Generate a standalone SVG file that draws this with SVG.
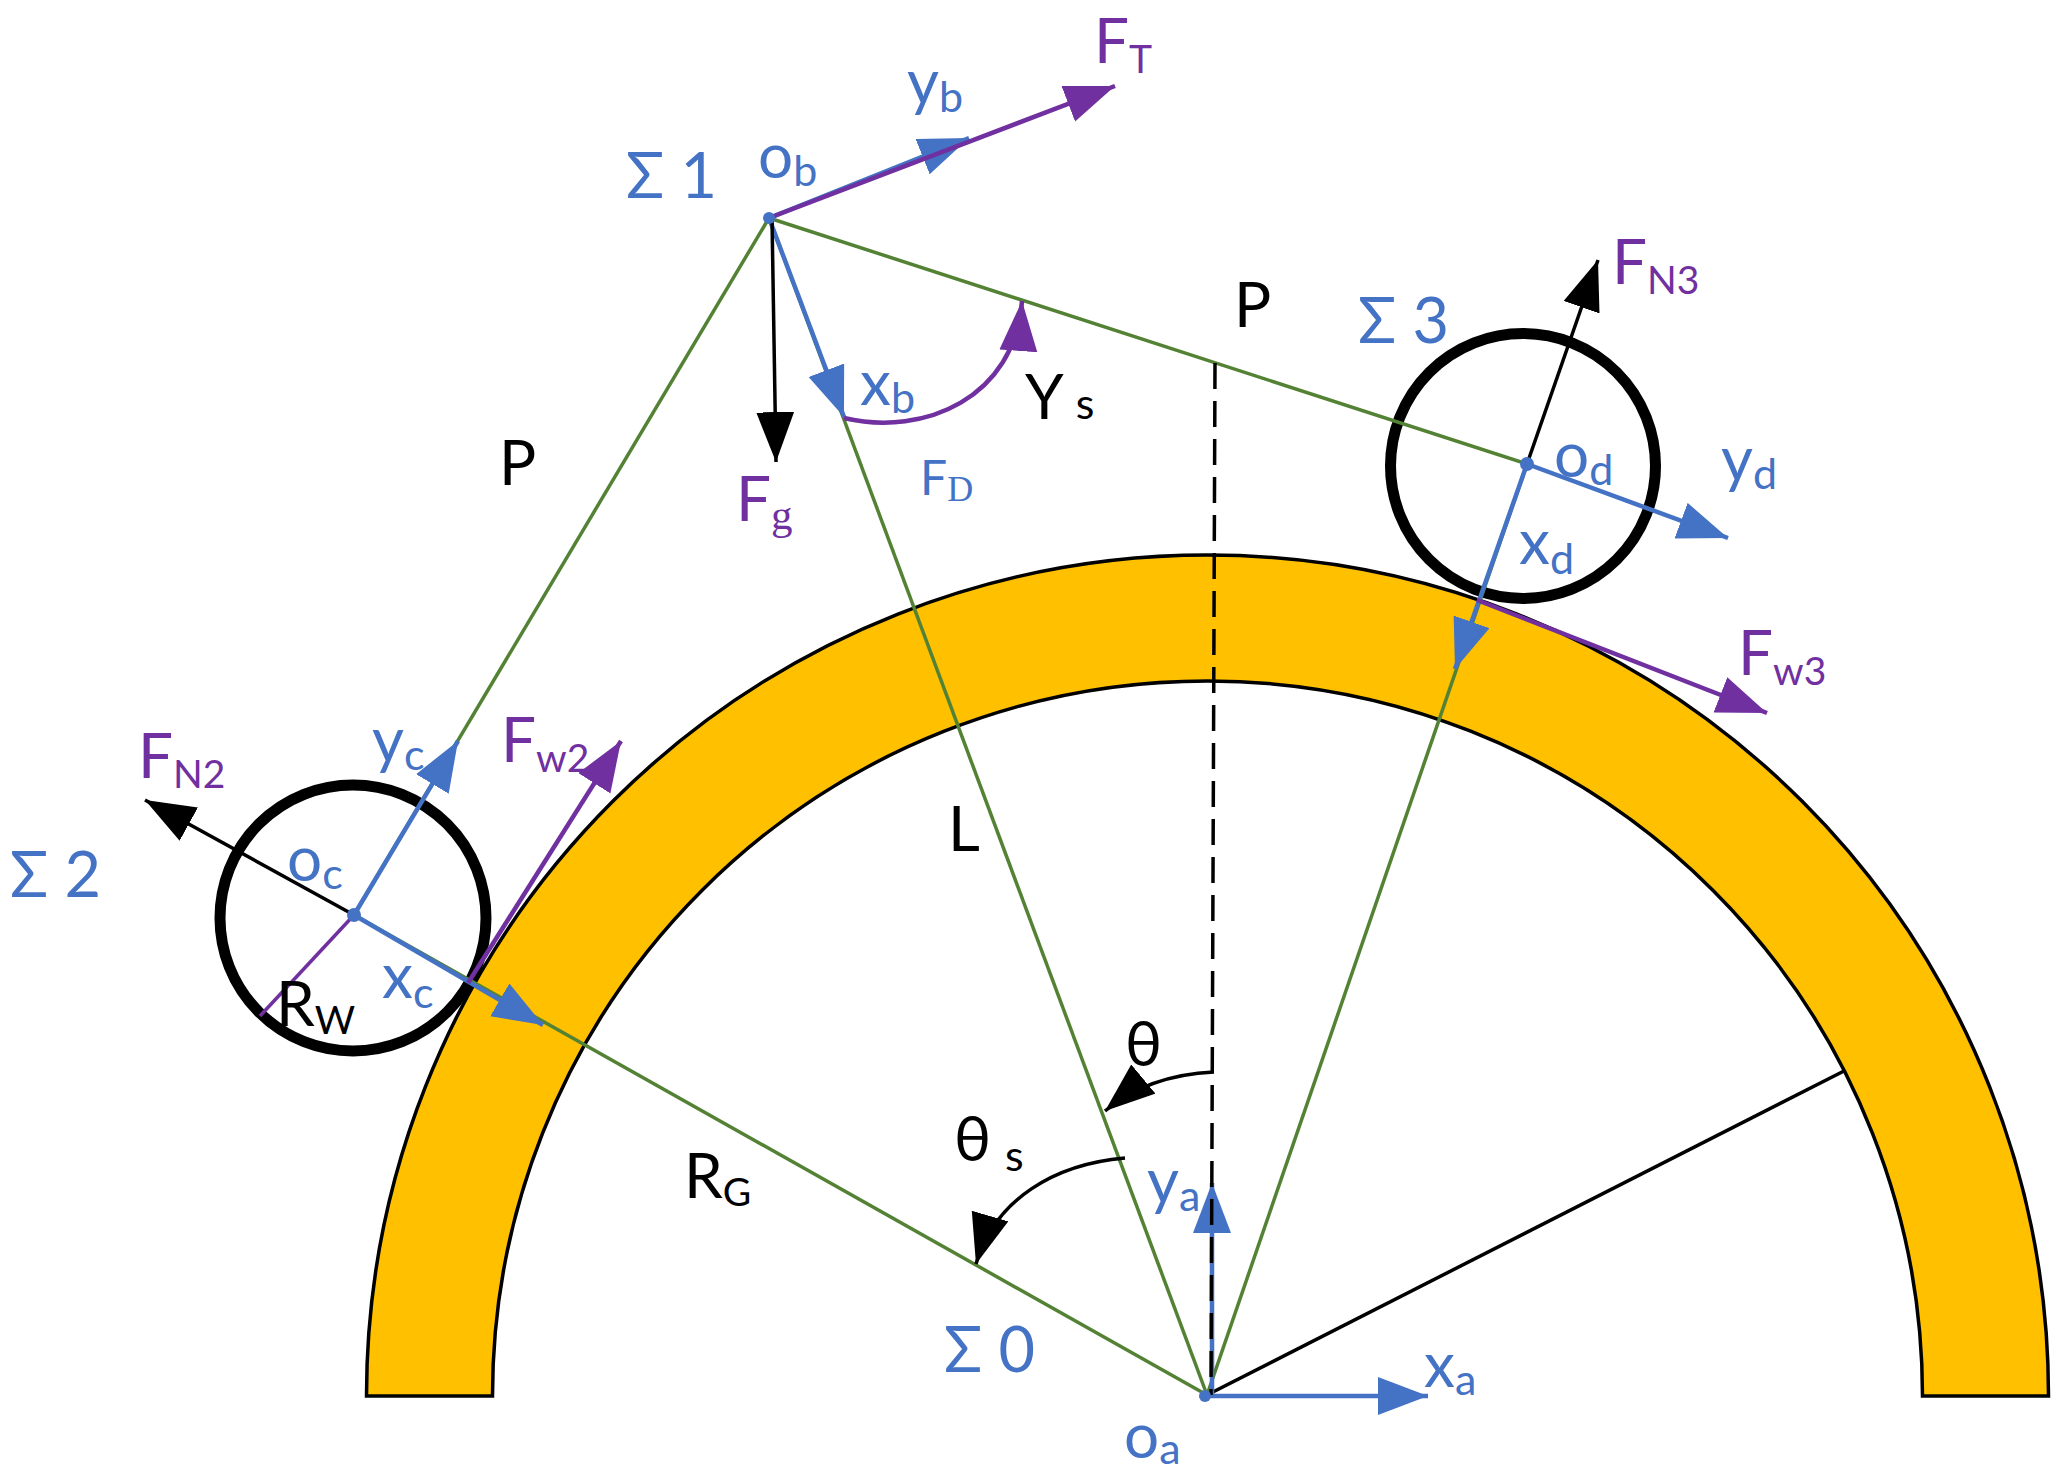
<svg xmlns="http://www.w3.org/2000/svg" width="2068" height="1477" viewBox="0 0 2068 1477">
<style>
text{font-family:Lato,"Open Sans",sans-serif;font-size:62px}
.b{fill:#4472C4}.p{fill:#7030A0}.k{fill:#000}
.sub{font-size:43px}
.fs{font-size:39px}
.sig{font-size:63px}
.ser{font-family:"Liberation Serif",serif}
.g{stroke:#548235;stroke-width:3.5;fill:none}
.bl{stroke:#4472C4;stroke-width:4.500;fill:none;marker-end:url(#mb)}
.pu{stroke:#7030A0;stroke-width:4.500;fill:none;marker-end:url(#mp)}
.bk{stroke:#000;stroke-width:3.500;fill:none;marker-end:url(#mk)}
.wheel{fill:none;stroke:#000;stroke-width:11}
</style>
<defs>
<marker id="mb" markerUnits="userSpaceOnUse" markerWidth="52" markerHeight="40" refX="50" refY="19" orient="auto"><path d="M0,0L50,19L0,38Z" fill="#4472C4"/></marker>
<marker id="mp" markerUnits="userSpaceOnUse" markerWidth="52" markerHeight="40" refX="50" refY="19" orient="auto"><path d="M0,0L50,19L0,38Z" fill="#7030A0"/></marker>
<marker id="mk" markerUnits="userSpaceOnUse" markerWidth="52" markerHeight="40" refX="50" refY="19" orient="auto"><path d="M0,0L50,19L0,38Z" fill="#000"/></marker>
</defs>
<g id="ring"><path d="M366.500,1396A841,841 0 0 1 2048.500,1396H1922.500A715,715 0 0 0 492.500,1396Z" fill="#FFC000" stroke="#000" stroke-width="3.500"/></g>
<g id="wheel-c"><circle cx="353" cy="918" r="133" class="wheel"/></g>
<g id="wheel-d"><circle cx="1523" cy="466" r="132.500" class="wheel"/></g>
<g id="connectors">
<path class="g" d="M769,218L354,915"/>
<path class="g" d="M769,218L1527,464"/>
<path class="g" d="M769,218L1207,1395"/>
<path class="g" d="M354,915L1207,1395"/>
<path class="g" d="M1527,464L1207,1395"/>
<path d="M1207,1395L1844,1071" fill="none" stroke="#000" stroke-width="3.500"/>
<path class="bl" d="M1207,1396H1428"/>
<path class="bl" d="M1212,1395V1183"/>
<path d="M1215,363L1211,1395" fill="none" stroke="#000" stroke-width="3.500" stroke-dasharray="26,12"/>
<path class="bl" d="M769,218L969,138"/>
<path class="pu" d="M769,218L1115,86"/>
<path class="bl" d="M769,218L844,417"/>
<path class="bk" d="M772,218L776,462"/>
<path class="pu" d="M844,418C925,437 1015,397 1022,301"/>
<path class="bk" d="M1527,464L1598,260"/>
<path class="bl" d="M1527,464L1728,538"/>
<path class="bl" d="M1527,464L1455,669"/>
<path class="pu" d="M1477,600L1767,713"/>
<path class="bk" d="M354,915L145,800"/>
<path class="bl" d="M354,915L458,741"/>
<path class="bl" d="M354,915L543,1025"/>
<path class="pu" d="M468,983L621,741"/>
<path d="M354,915L260,1016" fill="none" stroke="#7030A0" stroke-width="3.500"/>
<path class="bk" d="M1214,1072C1170,1074 1135,1086 1105,1111"/>
<path class="bk" d="M1125,1158C1055,1164 995,1199 976,1264"/>
<circle cx="769" cy="218" r="6" fill="#4472C4"/>
<circle cx="354" cy="915" r="7" fill="#4472C4"/>
<circle cx="1527" cy="464" r="7" fill="#4472C4"/>
<circle cx="1205" cy="1396" r="6" fill="#4472C4"/>
</g>
<g id="labels">
<text x="1094" y="63" class="p">F<tspan class="fs" dy="10">T</tspan></text>
<text x="907" y="104" class="b">y<tspan class="sub" dy="8">b</tspan></text>
<text x="626" y="198" class="b sig">Σ 1</text>
<text x="758" y="178" class="b">o<tspan class="sub" dy="8">b</tspan></text>
<text x="1358" y="343" class="b sig">Σ 3</text>
<text x="1612" y="284" class="p">F<tspan class="fs" dy="10">N3</tspan></text>
<text x="1234" y="327" class="k">P</text>
<text x="1554" y="477" class="b">o<tspan class="sub" dy="8">d</tspan></text>
<text x="1721" y="481" class="b">y<tspan class="sub" dy="8">d</tspan></text>
<text x="1519" y="564" class="b">x<tspan class="sub" dy="10">d</tspan></text>
<text x="1738" y="675" class="p">F<tspan class="fs" dy="10">w3</tspan></text>
<text x="860" y="405" class="b">x<tspan class="sub" dy="8">b</tspan></text>
<text x="1025" y="419" class="k">Υ<tspan class="sub" dx="12">s</tspan></text>
<text x="920" y="495" class="b" style="font-size:48px">F<tspan class="ser" style="font-size:36px" dy="6">D</tspan></text>
<text x="736" y="521" class="p">F<tspan class="sub ser" dy="8">g</tspan></text>
<text x="499" y="485" class="k">P</text>
<text x="948" y="851" class="k">L</text>
<text x="138" y="778" class="p">F<tspan class="fs" dy="10">N2</tspan></text>
<text x="372" y="762" class="b">y<tspan class="sub" dy="8">c</tspan></text>
<text x="501" y="762" class="p">F<tspan class="fs" dy="10">w2</tspan></text>
<text x="10" y="897" class="b sig">Σ 2</text>
<text x="287" y="881" class="b">o<tspan class="sub" dy="8">c</tspan></text>
<text x="382" y="998" class="b">x<tspan class="sub" dy="10">c</tspan></text>
<text x="276" y="1026" class="k">R<tspan class="fs" dy="8">W</tspan></text>
<text x="1125" y="1066" class="k">θ</text>
<text x="954" y="1161" class="k">θ<tspan class="sub" dx="14" dy="10">s</tspan></text>
<text x="1147" y="1203" class="b">y<tspan class="sub" dy="8">a</tspan></text>
<text x="684" y="1198" class="k">R<tspan class="fs" dy="8">G</tspan></text>
<text x="944" y="1372" class="b sig">Σ 0</text>
<text x="1424" y="1387" class="b">x<tspan class="sub" dy="8">a</tspan></text>
<text x="1124" y="1458" class="b">o<tspan class="sub" dy="6">a</tspan></text>
</g>
</svg>
